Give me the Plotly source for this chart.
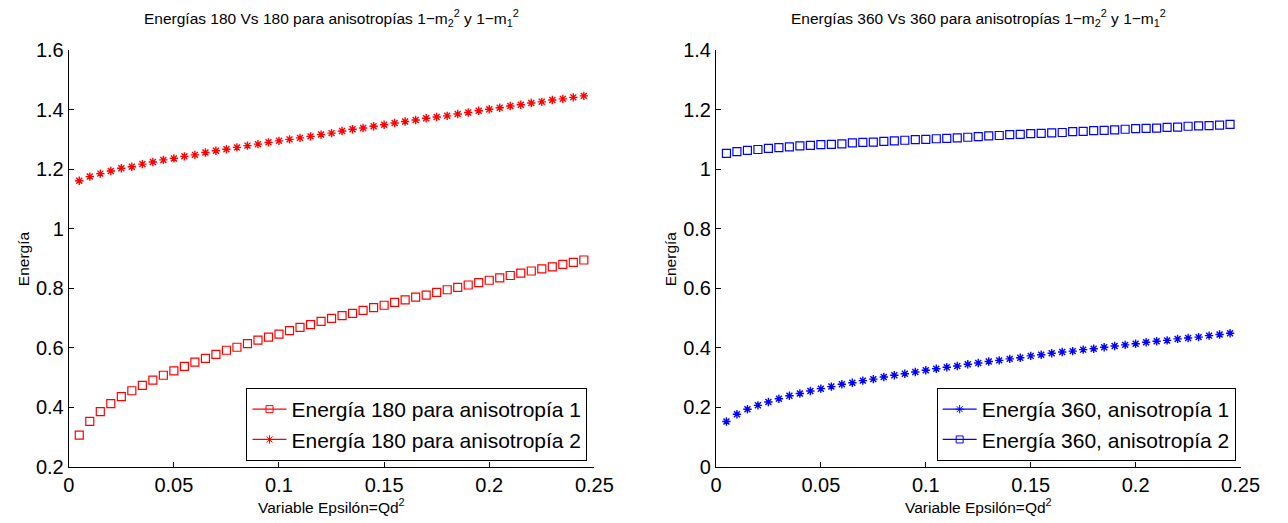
import plotly.graph_objects as go

# Epsilon = Qd^2 sample points
eps = [round(0.005 * k, 3) for k in range(1, 50)]

# 180-degree energies
e180_aniso1 = [0.307, 0.353, 0.386, 0.413, 0.436, 0.456, 0.474, 0.492, 0.508, 0.523,
               0.538, 0.552, 0.565, 0.578, 0.592, 0.602, 0.614, 0.626, 0.636, 0.646,
               0.658, 0.669, 0.678, 0.689, 0.699, 0.708, 0.716, 0.726, 0.735, 0.743,
               0.753, 0.761, 0.770, 0.777, 0.786, 0.795, 0.803, 0.811, 0.819, 0.827,
               0.835, 0.843, 0.851, 0.858, 0.865, 0.872, 0.880, 0.887, 0.895]
e180_aniso2 = [1.161, 1.175, 1.185, 1.194, 1.203, 1.208, 1.217, 1.224, 1.231, 1.236,
               1.243, 1.248, 1.256, 1.262, 1.267, 1.273, 1.279, 1.284, 1.290, 1.295,
               1.300, 1.305, 1.310, 1.316, 1.321, 1.328, 1.334, 1.338, 1.344, 1.349,
               1.355, 1.360, 1.365, 1.371, 1.375, 1.379, 1.385, 1.390, 1.396, 1.401,
               1.406, 1.412, 1.416, 1.422, 1.426, 1.432, 1.436, 1.441, 1.446]

# 360-degree energies
e360_aniso1 = [0.153, 0.177, 0.194, 0.207, 0.218, 0.229, 0.239, 0.247, 0.255, 0.263,
               0.270, 0.278, 0.283, 0.290, 0.295, 0.302, 0.308, 0.313, 0.319, 0.325,
               0.330, 0.335, 0.339, 0.345, 0.349, 0.354, 0.358, 0.363, 0.367, 0.373,
               0.377, 0.382, 0.386, 0.389, 0.394, 0.397, 0.402, 0.406, 0.410, 0.414,
               0.419, 0.422, 0.425, 0.430, 0.433, 0.436, 0.441, 0.445, 0.449]
e360_aniso2 = [1.053, 1.059, 1.063, 1.066, 1.070, 1.072, 1.075, 1.078, 1.080, 1.082,
               1.083, 1.085, 1.088, 1.090, 1.091, 1.093, 1.095, 1.097, 1.099, 1.100,
               1.102, 1.103, 1.105, 1.107, 1.109, 1.112, 1.113, 1.116, 1.117, 1.119,
               1.120, 1.122, 1.123, 1.126, 1.127, 1.129, 1.130, 1.132, 1.134, 1.136,
               1.137, 1.138, 1.140, 1.141, 1.144, 1.145, 1.146, 1.148, 1.150]

x_ticks = [0, 0.05, 0.1, 0.15, 0.2, 0.25]
x_tick_labels = ["0", "0.05", "0.1", "0.15", "0.2", "0.25"]
y_ticks_180 = [0.2, 0.4, 0.6, 0.8, 1.0, 1.2, 1.4, 1.6]
y_tick_labels_180 = ["0.2", "0.4", "0.6", "0.8", "1", "1.2", "1.4", "1.6"]
y_ticks_360 = [0, 0.2, 0.4, 0.6, 0.8, 1.0, 1.2, 1.4]
y_tick_labels_360 = ["0", "0.2", "0.4", "0.6", "0.8", "1", "1.2", "1.4"]

RED = "#ff0000"
BLUE = "#0000ff"
FONT = "Liberation Sans, Arial, Helvetica, sans-serif"
W, H = 1288, 523

SQUARE = dict(symbol="square-open", size=8, line=dict(width=1.2))
STAR = dict(symbol="asterisk-open", size=7, line=dict(width=1.4))

fig = go.Figure()


def add_series(xs, ys, color, marker, name, xa, ya, legend):
    # markers only on the axes
    fig.add_trace(go.Scatter(
        x=xs, y=ys, mode="markers", xaxis=xa, yaxis=ya, showlegend=False,
        marker=dict(color=color, symbol=marker["symbol"], size=marker["size"],
                    line=dict(color=color, width=marker["line"]["width"])),
        hoverinfo="x+y", name=name))
    # legend entry drawn as line + marker
    fig.add_trace(go.Scatter(
        x=[None], y=[None], mode="lines+markers", xaxis=xa, yaxis=ya,
        name=name, legend=legend, line=dict(color=color, width=1.2),
        marker=dict(color=color, symbol=marker["symbol"], size=7,
                    line=dict(color=color, width=1))))


add_series(eps, e180_aniso1, RED, SQUARE, "Energía 180 para anisotropía 1", "x", "y", "legend")
add_series(eps, e180_aniso2, RED, STAR, "Energía 180 para anisotropía 2", "x", "y", "legend")
add_series(eps, e360_aniso1, BLUE, STAR, "Energía 360, anisotropía 1", "x2", "y2", "legend2")
add_series(eps, e360_aniso2, BLUE, SQUARE, "Energía 360, anisotropía 2", "x2", "y2", "legend2")

left_dom = [64 / W, 600 / W]
right_dom = [724 / W, 1259 / W]

axis_common = dict(
    showgrid=False, zeroline=False, showline=True, linecolor="black", linewidth=1,
    ticks="inside", ticklen=5, tickwidth=1, tickcolor="black", mirror=False,
    tickfont=dict(family=FONT, size=20, color="black"),
)

legend_common = dict(
    xanchor="right", y=(467 - 461) / 417, yanchor="bottom",
    bgcolor="white", bordercolor="black", borderwidth=1,
    font=dict(family=FONT, size=21, color="black"),
    itemwidth=34, tracegroupgap=0, traceorder="normal",
)

fig.update_layout(
    width=W, height=H,
    margin=dict(l=0, r=0, t=50, b=56),
    paper_bgcolor="white", plot_bgcolor="white",
    font=dict(family=FONT, color="black"),
    xaxis=dict(domain=left_dom, range=[0, 0.25], tickvals=x_ticks,
               ticktext=x_tick_labels, anchor="y", **axis_common),
    yaxis=dict(domain=[0, 1], range=[0.2, 1.6], tickvals=y_ticks_180,
               ticktext=y_tick_labels_180, anchor="x", **axis_common),
    xaxis2=dict(domain=right_dom, range=[0, 0.25], tickvals=x_ticks,
                ticktext=x_tick_labels, anchor="y2", **axis_common),
    yaxis2=dict(domain=[0, 1], range=[0, 1.4], tickvals=y_ticks_360,
                ticktext=y_tick_labels_360, anchor="x2", **axis_common),
    legend=dict(x=593 / W, **legend_common),
    legend2=dict(x=1254 / W, **legend_common),
)

title_y = (467 - 18) / 417
xlab_y = (467 - 506) / 417
annotations = []
for dom, title in [
    (left_dom, "Energías 180 Vs 180 para anisotropías 1−m<sub>2</sub><sup>2</sup> y 1−m<sub>1</sub><sup>2</sup>"),
    (right_dom, "Energías 360 Vs 360 para anisotropías 1−m<sub>2</sub><sup>2</sup> y 1−m<sub>1</sub><sup>2</sup>"),
]:
    cx = (dom[0] + dom[1]) / 2
    annotations.append(dict(text=title, x=cx, y=title_y, xref="paper", yref="paper",
                            xanchor="center", yanchor="middle", showarrow=False,
                            font=dict(family=FONT, size=15.5, color="black")))
    annotations.append(dict(text="Variable Epsilón=Qd<sup>2</sup>", x=cx, y=xlab_y,
                            xref="paper", yref="paper", xanchor="center",
                            yanchor="middle", showarrow=False,
                            font=dict(family=FONT, size=15.5, color="black")))
for xpix in (18, 678):
    annotations.append(dict(text="Energía", x=xpix / W, y=0.5, xref="paper", yref="paper",
                            xanchor="center", yanchor="middle", textangle=-90,
                            showarrow=False,
                            font=dict(family=FONT, size=15.5, color="black")))
fig.update_layout(annotations=annotations)

fig.write_html("out.html")
